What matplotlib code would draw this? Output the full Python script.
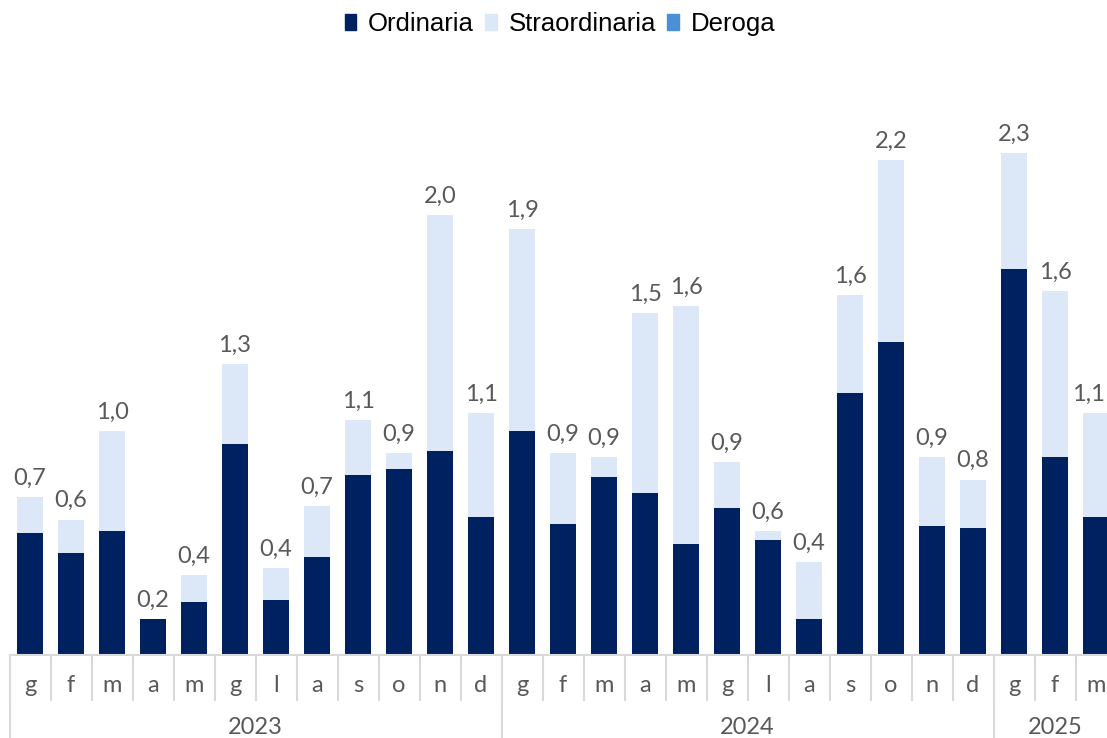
import numpy as np
import matplotlib
matplotlib.use('Agg')
import matplotlib.pyplot as plt
from matplotlib.patches import Patch

# data: Jan 2023 - Mar 2025
months = ['g', 'f', 'm', 'a', 'm', 'g', 'l', 'a', 's', 'o', 'n', 'd',
          'g', 'f', 'm', 'a', 'm', 'g', 'l', 'a', 's', 'o', 'n', 'd',
          'g', 'f', 'm']
years = ['2023', '2024', '2025']
year_len = [12, 12, 3]

ordinaria = [0.55, 0.46, 0.56, 0.16, 0.24, 0.95, 0.25, 0.44, 0.81, 0.84, 0.92, 0.62,
             1.01, 0.59, 0.80, 0.73, 0.50, 0.66, 0.52, 0.16, 1.18, 1.41, 0.58, 0.57,
             1.74, 0.89, 0.62]
straordinaria = [0.16, 0.15, 0.45, 0.00, 0.12, 0.36, 0.14, 0.23, 0.25, 0.07, 1.06, 0.47,
                 0.91, 0.32, 0.09, 0.81, 1.07, 0.21, 0.04, 0.26, 0.44, 0.82, 0.31, 0.22,
                 0.52, 0.75, 0.47]
deroga = [0.0] * 27

c_ord = '#00215f'
c_str = '#dce8f7'
c_der = '#4a90d9'
grey = '#595959'
line_c = '#d9d9d9'
lab_font = {'family': 'Lato', 'size': 17, 'color': grey}

W, H = 1107, 738
fig = plt.figure(figsize=(W / 100, H / 100), dpi=100)
# axes runs a little past the right edge like the original
ax = fig.add_axes([9.5 / W, (H - 655) / H, 41 * 27 / W, 555 / H])

x = np.arange(len(months))
ordn = np.array(ordinaria)
stra = np.array(straordinaria)
der = np.array(deroga)

ax.bar(x, ordn, width=0.63, color=c_ord, zorder=2)
ax.bar(x, stra, width=0.63, bottom=ordn, color=c_str, zorder=2)
ax.bar(x, der, width=0.63, bottom=ordn + stra, color=c_der, zorder=2)

tot = ordn + stra + der
labels = []
for xi, t in zip(x, tot):
    a = ax.annotate(('%.1f' % t).replace('.', ','), (xi, t), xytext=(0, 6),
                    textcoords='offset points', ha='center', va='bottom',
                    **lab_font)
    labels.append(a)

ax.set_xlim(-0.5, len(months) - 0.5)
ax.set_ylim(0, 2.5)
ax.axis('off')

# category axis drawn by hand (two levels)
tr = ax.get_xaxis_transform()
ax.plot([-0.5, len(months) - 0.5], [0, 0], transform=tr, color=line_c,
        lw=1.5, clip_on=False, zorder=3)
sep_m = -45 / 555.0
sep_y = -0.2
for i in range(len(months) + 1):
    ax.plot([i - 0.5, i - 0.5], [0, sep_m], transform=tr, color=line_c,
            lw=1.5, clip_on=False)
for i, m in enumerate(months):
    ax.text(i, -31 / 555.0, m, transform=tr, ha='center', va='center',
            **lab_font)

start = 0
for yr, n in zip(years, year_len):
    ax.plot([start - 0.5, start - 0.5], [0, sep_y], transform=tr, color=line_c,
            lw=1.5, clip_on=False)
    ax.text(start + (n - 1) / 2.0, -73 / 555.0, yr, transform=tr, ha='center',
            va='center', **lab_font)
    start += n

handles = [Patch(color=c_ord, label='Ordinaria'),
           Patch(color=c_str, label='Straordinaria'),
           Patch(color=c_der, label='Deroga')]
fig.legend(handles=handles, loc='center', bbox_to_anchor=(560 / W, 1 - 24 / H),
           ncol=3, frameon=False, handlelength=0.45, handleheight=0.55,
           handletextpad=0.45, columnspacing=0.45,
           prop={'family': 'Liberation Sans', 'size': 18.5})

# keep the last value label inside the picture
fig.canvas.draw()
r = fig.canvas.get_renderer()
for a in labels:
    bb = a.get_window_extent(r)
    if bb.x1 > W - 1:
        a.xyann = (-(bb.x1 - W + 2) * 72.0 / fig.dpi, 6)

fig.savefig('out.png', dpi=100)
